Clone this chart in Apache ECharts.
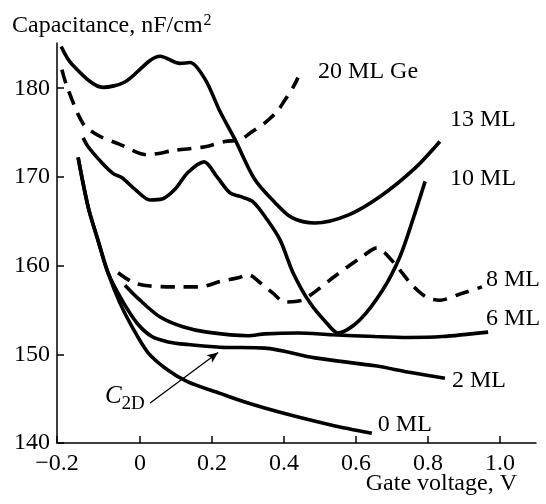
<!DOCTYPE html>
<html>
<head>
<meta charset="utf-8">
<script src="https://cdn.jsdelivr.net/npm/echarts@6/dist/echarts.min.js"></script>
<style>
    html, body { margin: 0; padding: 0; background: #fff; }
    #cv { width: 546px; height: 504px; }
</style>
</head>
<body>
<div id="cv"></div>
<script>
// gate voltage (V), capacitance (nF/cm2)
var ml20 = [[-0.217, 182.1], [-0.203, 180.2], [-0.158, 176.0], [-0.117, 174.7], [-0.058, 173.7],
    [0.019, 172.5], [0.097, 173.0], [0.181, 173.4], [0.236, 174.0], [0.278, 174.2], [0.311, 175.1],
    [0.347, 176.1], [0.381, 177.4], [0.403, 178.7], [0.425, 180.1], [0.439, 181.2]];
var ml13 = [[-0.219, 184.7], [-0.189, 182.7], [-0.103, 180.1], [-0.042, 180.7], [0.056, 183.6],
    [0.111, 182.8], [0.139, 182.9], [0.181, 181.0], [0.222, 177.4], [0.264, 174.2], [0.319, 169.7],
    [0.375, 167.1], [0.422, 165.4], [0.486, 164.8], [0.578, 165.7], [0.667, 167.8], [0.764, 171.0],
    [0.833, 174.0]];
var ml10 = [[-0.158, 174.4], [-0.144, 173.4], [-0.106, 171.6], [-0.075, 170.4], [-0.050, 169.9],
    [-0.014, 168.6], [0.028, 167.4], [0.061, 167.5], [0.097, 168.6], [0.133, 170.5], [0.178, 171.7],
    [0.214, 170.0], [0.250, 168.2], [0.278, 167.8], [0.314, 167.2], [0.353, 165.2], [0.389, 162.9],
    [0.425, 159.2], [0.472, 155.8], [0.519, 153.5], [0.550, 152.4], [0.611, 153.9], [0.675, 157.3],
    [0.722, 161.0], [0.758, 165.2], [0.792, 169.5]];
var ml8 = [[-0.061, 159.2], [-0.019, 158.1], [0.028, 157.7], [0.103, 157.6], [0.167, 157.6],
    [0.222, 158.2], [0.278, 158.7], [0.300, 159.0], [0.333, 158.1], [0.369, 156.9], [0.403, 155.9],
    [0.450, 156.1], [0.481, 156.9], [0.528, 158.4], [0.578, 159.9], [0.617, 161.0], [0.658, 162.0],
    [0.681, 161.4], [0.722, 159.5], [0.756, 157.8], [0.797, 156.4], [0.833, 156.1], [0.889, 156.8],
    [0.950, 157.6]];
var ml6 = [[-0.042, 157.8], [0.0, 156.1], [0.056, 154.2], [0.119, 153.1], [0.186, 152.5],
    [0.300, 152.1], [0.347, 152.3], [0.439, 152.4], [0.533, 152.2], [0.653, 152.0], [0.744, 151.9],
    [0.839, 152.0], [0.967, 152.5]];
var ml2 = [[-0.172, 172.2], [-0.144, 166.6], [-0.117, 162.9], [-0.089, 159.2], [-0.050, 156.1],
    [-0.008, 153.5], [0.033, 152.0], [0.078, 151.4], [0.133, 151.1], [0.222, 150.8], [0.347, 150.7],
    [0.486, 149.6], [0.653, 148.7], [0.744, 148.0], [0.847, 147.3]];
var ml0 = [[-0.172, 172.2], [-0.144, 166.6], [-0.117, 162.9], [-0.089, 159.2], [-0.056, 155.8],
    [-0.022, 153.1], [0.022, 150.2], [0.078, 148.2], [0.133, 146.9], [0.222, 145.6], [0.300, 144.5],
    [0.394, 143.4], [0.533, 142.0], [0.644, 141.1]];

var xTicks = [-0.2306, 0, 0.2, 0.4, 0.6, 0.8, 1.0];
var yTicks = [140, 150, 160, 170, 180];

// C2D arrow: tail, head, label centre
var c2dArrow = [[0.028, 144.5], [0.217, 150.2]];
var c2dText = [-0.042, 145.2];

var FONT = "'Liberation Serif', 'Times New Roman', serif";

function curve(name, data, dashed, off) {
    return {
        name: name,
        type: 'line',
        data: data,
        smooth: 0.3,
        showSymbol: false,
        silent: true,
        lineStyle: { color: '#000', width: 3.6, type: dashed ? [14, 9] : 'solid', cap: 'butt' },
        endLabel: {
            show: true,
            formatter: name,
            distance: 0,
            align: 'left',
            verticalAlign: 'middle',
            offset: off,
            color: '#000',
            fontFamily: FONT,
            fontSize: 24
        }
    };
}

var chart = echarts.init(document.getElementById('cv'));

var s2 = curve('2 ML', ml2, false, [7, 2]);
s2.markLine = {
    silent: true,
    symbol: ['none', 'arrow'],
    symbolSize: [7, 11],
    lineStyle: { color: '#000', width: 1.3, type: 'solid' },
    label: { show: false },
    data: [[{ coord: c2dArrow[0] }, { coord: c2dArrow[1] }]]
};
s2.markPoint = {
    silent: true,
    symbol: 'circle',
    symbolSize: 0,
    label: {
        show: true,
        position: 'inside',
        formatter: '{c|C}{s|2D}',
        rich: {
            c: { fontFamily: FONT, fontStyle: 'italic', fontSize: 25, lineHeight: 25, color: '#000' },
            s: { fontFamily: FONT, fontSize: 19, lineHeight: 19, padding: [14, 0, 0, 0], color: '#000' }
        }
    },
    data: [{ coord: c2dText }]
};

var option = {
    animation: false,
    backgroundColor: '#fff',
    title: {
        text: 'Capacitance, nF/cm{sup|2}',
        left: 12,
        top: 13,
        padding: 0,
        textStyle: {
            fontFamily: FONT,
            fontSize: 24,
            fontWeight: 'normal',
            color: '#000',
            rich: {
                sup: { fontFamily: FONT, fontSize: 16, padding: [0, 0, 9, 1], color: '#000' }
            }
        }
    },
    graphic: [{
        type: 'text',
        right: 29,
        top: 472,
        style: { text: 'Gate voltage, V', font: '24px ' + FONT, fill: '#000' }
    }],
    grid: { left: 57, right: 10, top: 43, bottom: 61, outerBoundsMode: 'none' },
    xAxis: {
        type: 'value',
        min: -0.2306,
        max: 1.1,
        splitLine: { show: false },
        axisLine: { onZero: false, lineStyle: { color: '#000', width: 1.5 } },
        axisTick: { inside: true, length: 7, customValues: xTicks, lineStyle: { color: '#000', width: 1.5 } },
        axisLabel: {
            customValues: xTicks,
            margin: 9,
            color: '#000',
            fontFamily: FONT,
            fontSize: 24,
            formatter: function (v) {
                if (v < -0.1) return '\u22120.2';
                if (v === 0) return '0';
                return v.toFixed(1);
            }
        }
    },
    yAxis: {
        type: 'value',
        min: 140,
        max: 185.1,
        interval: 10,
        splitLine: { show: false },
        axisLine: { onZero: false, lineStyle: { color: '#000', width: 1.5 } },
        axisTick: { inside: true, length: 7, customValues: yTicks, lineStyle: { color: '#000', width: 1.5 } },
        axisLabel: {
            customValues: yTicks,
            margin: 7,
            color: '#000',
            fontFamily: FONT,
            fontSize: 24
        }
    },
    series: [
        curve('20 ML Ge', ml20, true, [20, -6]),
        curve('13 ML', ml13, false, [10, -22]),
        curve('10 ML', ml10, false, [25, -3]),
        curve('8 ML', ml8, true, [4, -7]),
        curve('6 ML', ml6, false, [-2, -13]),
        s2,
        curve('0 ML', ml0, false, [6, -9])
    ]
};

chart.setOption(option);
</script>
</body>
</html>
